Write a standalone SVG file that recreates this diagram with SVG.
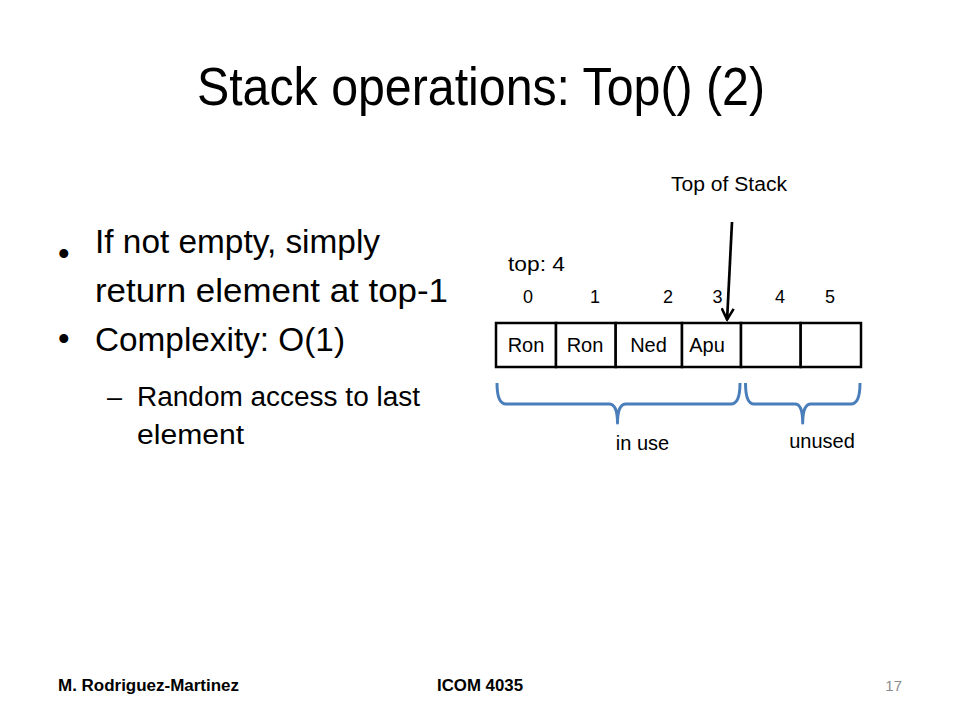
<svg xmlns="http://www.w3.org/2000/svg" width="960" height="720" viewBox="0 0 960 720">
<style>
text { font-family: "Liberation Sans", Arial, sans-serif; fill: #000; }
.title { font-size: 54px; }
.b1 { font-size: 33px; }
.b2 { font-size: 27px; }
.lbl { font-size: 20px; }
.idx { font-size: 18px; }
.foot { font-size: 16px; font-weight: bold; }
.pg { font-size: 15px; fill: #8c8c8c; }
.cell { fill: #fff; stroke: #000; stroke-width: 2.5; }
.brace { fill: none; stroke: #4a7ebb; stroke-width: 3; stroke-linejoin: round; }
.arrow { fill: none; stroke: #000; stroke-width: 2.7; }
</style>
<defs>
<marker id="openArrow" viewBox="0 0 14 14" refX="12" refY="7" markerWidth="14" markerHeight="14" markerUnits="userSpaceOnUse" orient="auto">
<path d="M1,1 L12,7 L1,13" fill="none" stroke="#000" stroke-width="2.6" stroke-linejoin="miter"/>
</marker>
</defs>
<rect x="0" y="0" width="960" height="720" fill="#fff"/>

<g id="title">
<text class="title" x="481" y="105" text-anchor="middle" textLength="568" lengthAdjust="spacingAndGlyphs">Stack operations: Top() (2)</text>
</g>

<g id="bullets">
<text class="b1" x="58" y="265">•</text>
<text class="b1" x="95" y="253" textLength="285" lengthAdjust="spacingAndGlyphs">If not empty, simply</text>
<text class="b1" x="95" y="302" textLength="353" lengthAdjust="spacingAndGlyphs">return element at top-1</text>
<text class="b1" x="58" y="350">•</text>
<text class="b1" x="95" y="351" textLength="250" lengthAdjust="spacingAndGlyphs">Complexity: O(1)</text>
<text class="b2" x="107" y="406">–</text>
<text class="b2" x="137" y="406" textLength="283" lengthAdjust="spacingAndGlyphs">Random access to last</text>
<text class="b2" x="137" y="444" textLength="107" lengthAdjust="spacingAndGlyphs">element</text>
</g>

<g id="top-of-stack-label">
<text class="lbl" x="729" y="191" text-anchor="middle" textLength="116" lengthAdjust="spacingAndGlyphs">Top of Stack</text>
</g>
<g id="top-value">
<text class="lbl" x="508" y="271" textLength="57" lengthAdjust="spacingAndGlyphs">top: 4</text>
</g>

<g id="indices">
<text class="idx" x="528" y="303" text-anchor="middle">0</text>
<text class="idx" x="595" y="303" text-anchor="middle">1</text>
<text class="idx" x="668" y="303" text-anchor="middle">2</text>
<text class="idx" x="717.5" y="303" text-anchor="middle">3</text>
<text class="idx" x="780" y="303" text-anchor="middle">4</text>
<text class="idx" x="830" y="303" text-anchor="middle">5</text>
</g>

<g id="cell-0"><rect class="cell" x="496" y="323" width="60" height="44"/><text class="lbl" x="526" y="352" text-anchor="middle">Ron</text></g>
<g id="cell-1"><rect class="cell" x="556" y="323" width="59.7" height="44"/><text class="lbl" x="585" y="352" text-anchor="middle">Ron</text></g>
<g id="cell-2"><rect class="cell" x="615.7" y="323" width="66.3" height="44"/><text class="lbl" x="648.5" y="352" text-anchor="middle">Ned</text></g>
<g id="cell-3"><rect class="cell" x="682" y="323" width="59" height="44"/><text class="lbl" x="707" y="352" text-anchor="middle">Apu</text></g>
<g id="cell-4"><rect class="cell" x="741" y="323" width="59.7" height="44"/></g>
<g id="cell-5"><rect class="cell" x="800.7" y="323" width="60.3" height="44"/></g>

<g id="connectors">
<line class="arrow" x1="732" y1="222" x2="727.1" y2="319.5" marker-end="url(#openArrow)"/>
<path class="brace" d="M497,383 Q497,404 506,404 L609,404 Q617.5,404 617.5,423 Q617.5,404 626,404 L731,404 Q740,404 740,383"/>
<path class="brace" d="M745.5,383 Q745.5,404 754,404 L795,404 Q802.7,404 802.7,423 Q802.7,404 811,404 L851,404 Q860,404 860,383"/>
</g>

<g id="in-use-label"><text class="lbl" x="642.5" y="450" text-anchor="middle">in use</text></g>
<g id="unused-label"><text class="lbl" x="822" y="448" text-anchor="middle">unused</text></g>

<g id="footer">
<text class="foot" x="58" y="691" textLength="181" lengthAdjust="spacingAndGlyphs">M. Rodriguez-Martinez</text>
<text class="foot" x="480" y="691" text-anchor="middle" textLength="86" lengthAdjust="spacingAndGlyphs">ICOM 4035</text>
<text class="pg" x="902" y="691" text-anchor="end">17</text>
</g>
</svg>
